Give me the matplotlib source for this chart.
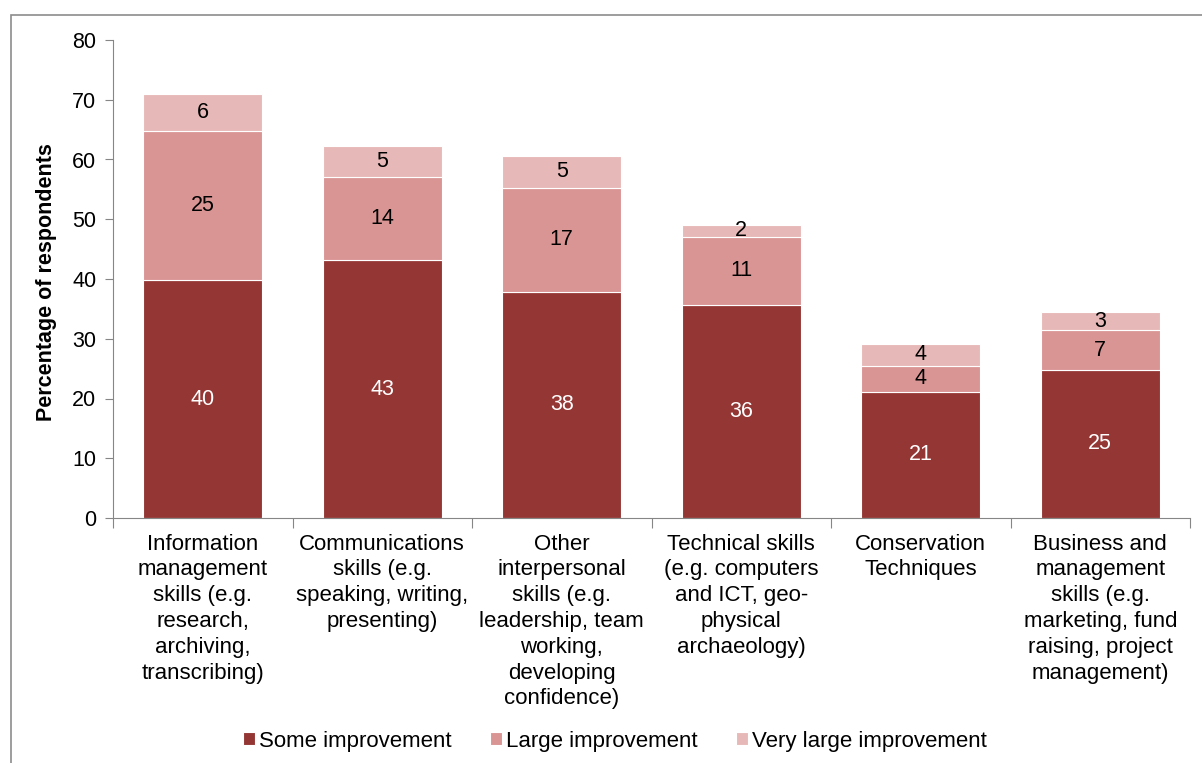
import numpy as np
import matplotlib
matplotlib.use('Agg')
import matplotlib.pyplot as plt
from matplotlib.patches import Rectangle

plt.rcParams['font.family'] = ['Liberation Sans', 'DejaVu Sans']

categories = ['Information\nmanagement\nskills (e.g.\nresearch,\narchiving,\ntranscribing)',
              'Communications\nskills (e.g.\nspeaking, writing,\npresenting)',
              'Other\ninterpersonal\nskills (e.g.\nleadership, team\nworking,\ndeveloping\nconfidence)',
              'Technical skills\n(e.g. computers\nand ICT, geo-\nphysical\narchaeology)',
              'Conservation\nTechniques',
              'Business and\nmanagement\nskills (e.g.\nmarketing, fund\nraising, project\nmanagement)']

some = [39.8, 43.1, 37.9, 35.7, 21.1, 24.8]
large = [25.0, 14.0, 17.4, 11.4, 4.4, 6.6]
very_large = [6.1, 5.2, 5.3, 2.0, 3.6, 3.1]

series_names = ['Some improvement', 'Large improvement', 'Very large improvement']
colours = ['#943634', '#D99594', '#E6B9B8'] # dark, mid, light
label_colours = ['white', 'black', 'black']

W, H = 1202, 763
fig = plt.figure(figsize=(W/100, H/100), dpi=100)
ax = fig.add_axes([113/W, 1 - 518/H, (1190-113)/W, (518-40)/H])

x = np.arange(len(categories))
bottom = np.zeros(len(categories))
for vals, name, col, lc in zip([some, large, very_large], series_names, colours, label_colours):
    vals = np.array(vals)
    ax.bar(x, vals, width=0.665, bottom=bottom, color=col, edgecolor='white',
           linewidth=0.8, label=name)
    for xi, b, v in zip(x, bottom, vals):
        ax.text(xi, b + v/2, f'{v:.0f}', ha='center', va='center', fontsize=15.5, color=lc)
    bottom += vals

ax.set_xlim(-0.5, len(categories) - 0.5)
ax.set_ylim(0, 80)
ax.set_yticks(range(0, 81, 10))
ax.tick_params(axis='y', labelsize=15.5, length=6, color='#868686', pad=6)

# category labels between boundary ticks
ax.set_xticks(np.arange(-0.5, len(categories)))
ax.set_xticklabels([])
ax.tick_params(axis='x', length=7, color='#868686')
for xi, c in zip(x, categories):
    ax.text(xi, -2.6, c, ha='center', va='top', fontsize=16, linespacing=1.3)

for s in ['top', 'right']:
    ax.spines[s].set_visible(False)
for s in ['left', 'bottom']:
    ax.spines[s].set_color('#868686')

fig.text(47/W, 1 - 282/H, 'Percentage of respondents', rotation=90, ha='center', va='center',
         fontsize=15.5, fontweight='bold')

fig.legend(loc='center', bbox_to_anchor=(615/W, 1 - 741/H), ncol=3, frameon=False,
           fontsize=16, handlelength=0.55, handleheight=0.55, handletextpad=0.2,
           columnspacing=1.7)

# outer chart border (cut off at the right and bottom)
fig.patches.append(Rectangle((11/W, -0.1), 1.2, 1 - 15/H + 0.1, transform=fig.transFigure,
                             fill=False, edgecolor='#8c8c8c', linewidth=1.2))

fig.savefig('out.png', dpi=100)
